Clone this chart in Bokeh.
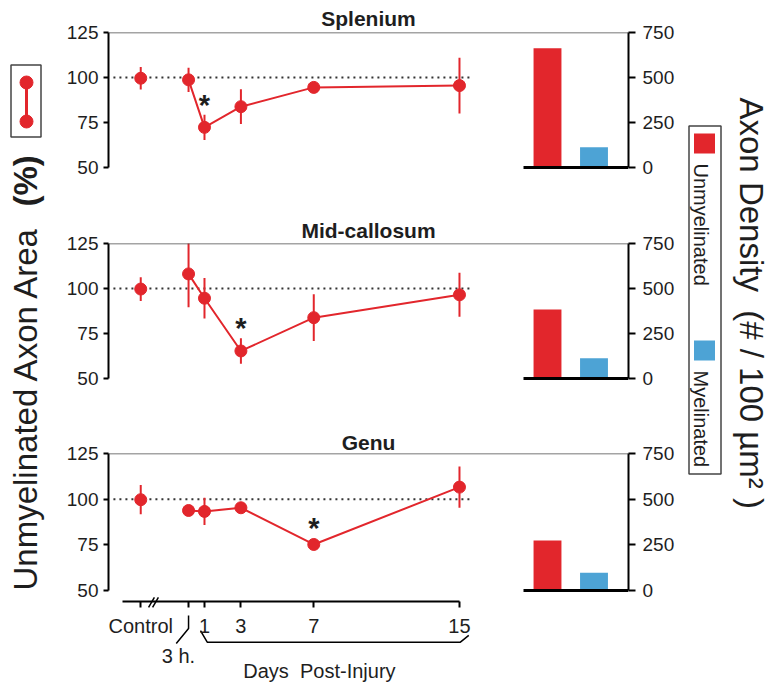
import math
from bokeh.plotting import figure
from bokeh.models import Range1d, LinearAxis, FixedTicker, Span
from bokeh.layouts import row, column
from bokeh.embed import file_html
from bokeh.resources import INLINE
from bokeh.core.properties import value

FONT = "Liberation Sans"
RED = "#E2262C"
BLUE = "#4DA3D5"
INK = "#1E1E1E"

# ---------------- data ----------------
time_labels = ["Control", "3 h.", "1", "3", "7", "15"]
time_x = [-2.5, 0.125, 1, 3, 7, 15]          # Control, 3 h, days post-injury

region_names = ["Splenium", "Mid-callosum", "Genu"]
splenium_mean = [99.6, 98.7, 72.3, 83.8, 94.5, 95.5]
splenium_err = [6.3, 6.7, 7.0, 9.7, 1.0, 15.5]
midcallosum_mean = [99.7, 108.1, 94.6, 65.3, 83.8, 96.5]
midcallosum_err = [6.6, 18.5, 11.3, 7.1, 13.0, 12.2]
genu_mean = [99.7, 93.8, 93.3, 95.3, 75.2, 106.6]
genu_err = [8.0, 1.0, 7.5, 1.5, 1.0, 11.3]
significant_day = [1, 3, 7]

bar_categories = ["Unmyelinated", "Myelinated"]
splenium_density = [662, 113]
midcallosum_density = [384, 112]
genu_density = [274, 97]

area_ticks = [50, 75, 100, 125]
density_ticks = [0, 250, 500, 750]


def style_axis(ax, tick_out=5, standoff=5):
    ax.axis_line_width = 2
    ax.axis_line_color = "black"
    ax.major_tick_line_width = 2
    ax.major_tick_line_color = "black"
    ax.major_tick_out = tick_out
    ax.major_tick_in = 0
    ax.minor_tick_out = 0
    ax.minor_tick_in = 0
    ax.major_label_text_font = FONT
    ax.major_label_text_font_size = "19px"
    ax.major_label_text_color = INK
    ax.major_label_standoff = standoff


def make_panel(name, mean, err, dens, star_day, top_b, frame_h, bot_b, y_start,
               standoff, star_off):
    p = figure(frame_width=520, frame_height=frame_h,
               min_border_left=58, min_border_right=56,
               min_border_top=top_b, min_border_bottom=bot_b,
               x_range=Range1d(-4.27, 24.28), y_range=Range1d(y_start, 125),
               x_axis_type=None, y_axis_type=None,
               toolbar_location=None, output_backend="svg", title=name)
    p.outline_line_color = None
    p.background_fill_color = "white"
    p.border_fill_color = "white"
    p.title.align = "center"
    p.title.text_font = FONT
    p.title.text_font_size = "21px"
    p.title.text_font_style = "bold"
    p.title.text_color = INK
    p.title.standoff = standoff

    p.extra_x_ranges = {"bar": Range1d(-9.441, 1.742)}
    p.extra_y_ranges = {"bar": Range1d((y_start - 50) * 10, 750)}

    ly = LinearAxis(ticker=FixedTicker(ticks=area_ticks), bounds=(50, 125))
    style_axis(ly, 5, 5)
    p.add_layout(ly, "left")
    ry = LinearAxis(y_range_name="bar", ticker=FixedTicker(ticks=density_ticks), bounds=(0, 750))
    style_axis(ry, 7, 7)
    p.add_layout(ry, "right")

    p.add_layout(Span(location=125, dimension="width", line_color="#4a4a4a", line_width=1.5))

    # reference line at 100 %
    p.segment(x0=-4.0, y0=100, x1=15.7, y1=100, line_color="#333333",
              line_width=2, line_dash="2 4")

    # error bars
    p.segment(x0=time_x, y0=[m - e for m, e in zip(mean, err)],
              x1=time_x, y1=[m + e for m, e in zip(mean, err)],
              line_color=RED, line_width=2)
    p.line(time_x[1:], mean[1:], line_color=RED, line_width=2)
    p.scatter(time_x, mean, size=12, fill_color=RED, line_color=RED)

    i = time_x.index(star_day)
    p.text(x=[star_day], y=[mean[i] + err[i]], text=["*"], text_font=value(FONT),
           text_font_size="29px", text_font_style="bold", text_align="center",
           text_baseline="alphabetic", text_color=INK, y_offset=star_off)

    # density bars
    p.vbar(x=list(range(len(bar_categories))), top=dens, bottom=0, width=0.6,
           fill_color=[RED, BLUE], line_color=None,
           x_range_name="bar", y_range_name="bar")
    p.segment(x0=-0.516, y0=0, x1=1.742, y1=0, line_color="black", line_width=3,
              x_range_name="bar", y_range_name="bar")
    return p


p1 = make_panel(region_names[0], splenium_mean, splenium_err, splenium_density,
                significant_day[0], 32, 138, 35, 50 - 3 / 1.8, 6, -10)
p2 = make_panel(region_names[1], midcallosum_mean, midcallosum_err, midcallosum_density,
                significant_day[1], 38, 138, 37, 50 - 3 / 1.8, 4, -10)
p3 = make_panel(region_names[2], genu_mean, genu_err, genu_density,
                significant_day[2], 35, 230, 0, 125 - 230 / 1.8267, 0, -15)

# time axis of the bottom panel
overrides = {t: (lab if lab != "3 h." else "") for t, lab in zip(time_x, time_labels)}
xa = LinearAxis(ticker=FixedTicker(ticks=time_x), bounds=(-3.5, 15),
                fixed_location=44.0, major_label_overrides=overrides)
style_axis(xa, 6, 8)
xa.major_label_text_font_size = "20px"
p3.add_layout(xa, "below")

# axis break marks
p3.segment(x0=[-2.07, -1.85], y0=[40.7, 40.7], x1=[-1.75, -1.53], y1=[46.2, 46.2],
           line_color="black", line_width=1.5, level="overlay")
# 3 h hook and day bracket
p3.line(x=[0.125, 0.125, -0.55], y=[36.3, 29.2, 21.0], line_color="black", line_width=1.5)
p3.line(x=[0.78, 1.15, 15.05, 15.51], y=[28.1, 21.7, 21.7, 25.4],
        line_color="black", line_width=1.5)
p3.text(x=[-0.43], y=[14.4], text=[time_labels[1]], text_font=value(FONT),
        text_font_size="20px", text_align="center", text_baseline="middle", text_color=INK)
p3.text(x=[7.31], y=[6.2], text=["Days\u00a0 Post-Injury"], text_font=value(FONT),
        text_font_size="20px", text_align="center", text_baseline="middle", text_color=INK)

# ---------------- left side: legend + axis title ----------------
lf = figure(frame_width=50, frame_height=683, min_border=0,
            x_range=Range1d(0, 50), y_range=Range1d(683, 0),
            x_axis_type=None, y_axis_type=None, toolbar_location=None, output_backend="svg")
lf.outline_line_color = None
lf.quad(left=[10.5], right=[40.5], top=[64.5], bottom=[136.5], fill_color=None,
        line_color="#444444", line_width=1.5)
lf.segment(x0=[26], y0=[82], x1=[26], y1=[121], line_color=RED, line_width=3)
lf.scatter(x=[26, 26], y=[82, 121], size=13, fill_color=RED, line_color=RED)
lf.text(x=[25], y=[590], text=["Unmyelinated Axon Area"], angle=math.pi / 2,
        text_font=value(FONT), text_font_size="33px", text_align="left",
        text_baseline="middle", text_color=INK)
lf.text(x=[25], y=[206], text=["(%)"], angle=math.pi / 2,
        text_font=value(FONT), text_font_size="33px", text_font_style="bold",
        text_align="left", text_baseline="middle", text_color=INK)

# ---------------- right side: legend + axis title ----------------
rf = figure(frame_width=94, frame_height=683, min_border=0,
            x_range=Range1d(684, 778), y_range=Range1d(683, 0),
            x_axis_type=None, y_axis_type=None, toolbar_location=None, output_backend="svg")
rf.outline_line_color = None
rf.quad(left=[688.5], right=[720.5], top=[125.5], bottom=[473.5], fill_color=None,
        line_color="#444444", line_width=1.5)
rf.rect(x=[704, 704], y=[143, 350], width=21, height=20, fill_color=[RED, BLUE], line_color=None)
rf.text(x=[700, 700], y=[163, 370], text=bar_categories, angle=-math.pi / 2,
        text_font=value(FONT), text_font_size="20px", text_align="left",
        text_baseline="middle", text_color=INK)
rf.text(x=[751], y=[97], text=["Axon Density\u00a0 (# / 100 \u00b5m\u00b2 )"], angle=-math.pi / 2,
        text_font=value(FONT), text_font_size="33px", text_align="left",
        text_baseline="middle", text_color=INK)

layout = row(lf, column(p1, p2, p3), rf)
open("out.html", "w").write(file_html(layout, INLINE))
